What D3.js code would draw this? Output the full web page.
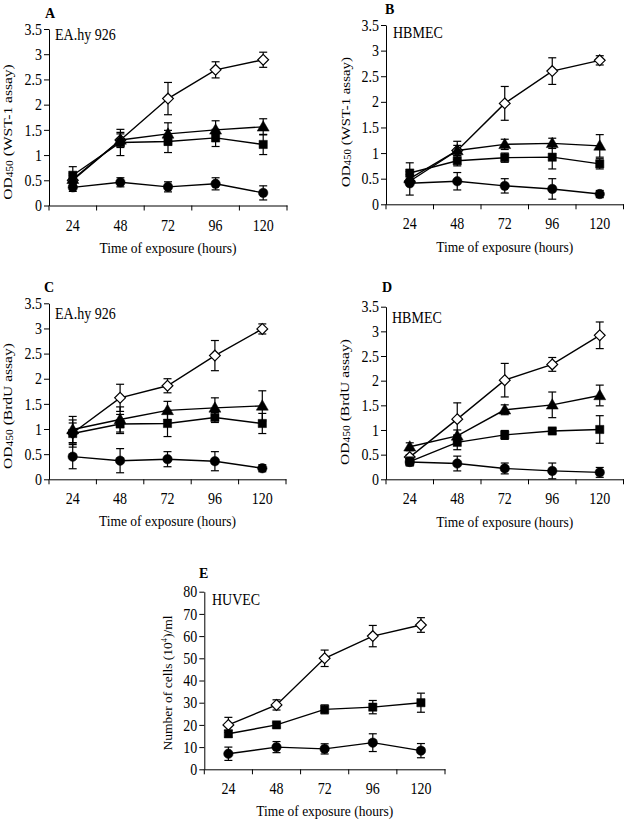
<!DOCTYPE html>
<html>
<head>
<meta charset="utf-8">
<script src="https://cdn.jsdelivr.net/npm/d3@7"></script>
<style>
  html, body { margin: 0; padding: 0; background: #fff; }
  svg { display: block; }
  text { font-family: "Liberation Serif", "Times New Roman", serif; fill: #000; }
</style>
</head>
<body>
<svg id="chart" width="624" height="820"></svg>
<script>
// ---------------- DATA ----------------
const times = ["24", "48", "72", "96", "120"];
const odTicks = [0, 0.5, 1, 1.5, 2, 2.5, 3, 3.5];
const cellTicks = [0, 10, 20, 30, 40, 50, 60, 70, 80];

// Panel A: EA.hy 926, WST-1
const aDiamond = [0.50, 1.30, 2.12, 2.69, 2.89];
const aDiamondErr = [0.10, 0.15, 0.32, 0.16, 0.15];
const aTriangle = [0.52, 1.30, 1.42, 1.50, 1.56];
const aTriangleErr = [0.12, 0.12, 0.22, 0.18, 0.16];
const aSquare = [0.60, 1.25, 1.27, 1.34, 1.21];
const aSquareErr = [0.17, 0.26, 0.22, 0.17, 0.20];
const aCircle = [0.36, 0.46, 0.37, 0.43, 0.25];
const aCircleErr = [0.08, 0.09, 0.10, 0.12, 0.14];

// Panel B: HBMEC, WST-1
const bDiamond = [0.45, 1.05, 1.97, 2.60, 2.81];
const bDiamondErr = [0.06, 0.18, 0.33, 0.26, 0.09];
const bTriangle = [0.50, 1.05, 1.17, 1.19, 1.14];
const bTriangleErr = [0.08, 0.10, 0.10, 0.10, 0.22];
const bSquare = [0.61, 0.85, 0.91, 0.92, 0.79];
const bSquareErr = [0.20, 0.10, 0.09, 0.23, 0.10];
const bCircle = [0.41, 0.45, 0.36, 0.30, 0.20];
const bCircleErr = [0.23, 0.17, 0.14, 0.20, 0.07];

// Panel C: EA.hy 926, BrdU
const cDiamond = [0.92, 1.62, 1.86, 2.46, 2.99];
const cDiamondErr = [0.20, 0.27, 0.14, 0.30, 0.10];
const cTriangle = [0.99, 1.19, 1.37, 1.42, 1.46];
const cTriangleErr = [0.26, 0.25, 0.18, 0.20, 0.30];
const cSquare = [0.91, 1.10, 1.11, 1.23, 1.11];
const cSquareErr = [0.27, 0.19, 0.26, 0.10, 0.20];
const cCircle = [0.45, 0.37, 0.40, 0.36, 0.22];
const cCircleErr = [0.24, 0.24, 0.15, 0.19, 0.07];

// Panel D: HBMEC, BrdU
const dDiamond = [0.45, 1.22, 2.01, 2.33, 2.92];
const dDiamondErr = [0.05, 0.33, 0.34, 0.14, 0.27];
const dTriangle = [0.66, 0.88, 1.41, 1.51, 1.70];
const dTriangleErr = [0.08, 0.12, 0.10, 0.26, 0.21];
const dSquare = [0.36, 0.75, 0.90, 0.98, 1.01];
const dSquareErr = [0.09, 0.15, 0.09, 0.05, 0.28];
const dCircle = [0.35, 0.32, 0.22, 0.17, 0.14];
const dCircleErr = [0.05, 0.15, 0.11, 0.16, 0.10];

// Panel E: HUVEC, cell counts
const eDiamond = [20, 29, 50, 60, 65];
const eDiamondErr = [3.4, 2.3, 3.7, 4.8, 3.3];
const eSquare = [16, 20, 27, 28, 30];
const eSquareErr = [1.5, 1.0, 2.0, 3.0, 4.3];
const eCircle = [7, 10, 9.2, 12, 8.4];
const eCircleErr = [3.0, 2.5, 2.3, 4.0, 3.2];

const xTitle = "Time of exposure (hours)";

// ---------------- LAYOUT ----------------
const panels = [
  { letter: "A", cell: "EA.hy 926", assay: "WST-1 assay",
    left: 49, right: 287, top: 29, bottom: 205.5, yMax: 3.5, ticks: odTicks,
    letterPos: [45, 18], cellPos: [55, 40], tickY: 231, titleY: 253, ylabX: 12, ylabY: 132, ylabStretch: 1.15,
    series: [[aDiamond, aDiamondErr, "diamond"], [aTriangle, aTriangleErr, "triangle"],
             [aSquare, aSquareErr, "square"], [aCircle, aCircleErr, "circle"]] },
  { letter: "B", cell: "HBMEC", assay: "WST-1 assay",
    left: 386, right: 623.5, top: 25, bottom: 204.3, yMax: 3.5, ticks: odTicks,
    letterPos: [385, 14], cellPos: [393, 38], tickY: 229, titleY: 252, ylabX: 350, ylabY: 122, ylabStretch: 1.1,
    series: [[bDiamond, bDiamondErr, "diamond"], [bTriangle, bTriangleErr, "triangle"],
             [bSquare, bSquareErr, "square"], [bCircle, bCircleErr, "circle"]] },
  { letter: "C", cell: "EA.hy 926", assay: "BrdU assay",
    left: 49, right: 286, top: 303.3, bottom: 479.3, yMax: 3.5, ticks: odTicks,
    letterPos: [44, 292], cellPos: [55, 319], tickY: 504, titleY: 526, ylabX: 12, ylabY: 406, ylabStretch: 1.15,
    series: [[cDiamond, cDiamondErr, "diamond"], [cTriangle, cTriangleErr, "triangle"],
             [cSquare, cSquareErr, "square"], [cCircle, cCircleErr, "circle"]] },
  { letter: "D", cell: "HBMEC", assay: "BrdU assay",
    left: 386, right: 623.5, top: 306.7, bottom: 479.3, yMax: 3.5, ticks: odTicks,
    letterPos: [382, 292], cellPos: [392, 323], tickY: 504, titleY: 527, ylabX: 349, ylabY: 402, ylabStretch: 1.15,
    series: [[dDiamond, dDiamondErr, "diamond"], [dTriangle, dTriangleErr, "triangle"],
             [dSquare, dSquareErr, "square"], [dCircle, dCircleErr, "circle"]] },
  { letter: "E", cell: "HUVEC", assay: null,
    left: 204.3, right: 445, top: 591.7, bottom: 769.3, yMax: 80, ticks: cellTicks,
    letterPos: [199, 578], cellPos: [212, 605], tickY: 794, titleY: 816, ylabX: 172, ylabY: 683, ylabStretch: 1.0,
    series: [[eDiamond, eDiamondErr, "diamond"], [eSquare, eSquareErr, "square"],
             [eCircle, eCircleErr, "circle"]] }
];

const svg = d3.select("#chart");
const STRETCH = 1.15;

function stext(g, x, y, str, opts = {}) {
  const s = opts.stretch == null ? STRETCH : opts.stretch;
  return g.append("text")
    .attr("transform", `translate(${x},${y}) scale(1,${s})`)
    .attr("text-anchor", opts.anchor || "start")
    .attr("font-size", opts.size || 13)
    .attr("font-weight", opts.weight || "normal")
    .text(str);
}

const symbols = {
  diamond: d3.symbol().type(d3.symbolDiamond2).size(74),
  square: d3.symbol().type(d3.symbolSquare).size(68),
  triangle: d3.symbol().type(d3.symbolTriangle).size(62),
  circle: d3.symbol().type(d3.symbolCircle).size(70)
};

panels.forEach(p => {
  const g = svg.append("g");
  const x = d3.scaleBand().domain(times).range([p.left, p.right]).paddingInner(0).paddingOuter(0);
  const y = d3.scaleLinear().domain([0, p.yMax]).range([p.bottom, p.top]);
  const cx = t => x(t) + x.bandwidth() / 2;

  // y axis
  const yAx = g.append("g").attr("transform", `translate(${p.left},0)`)
    .call(d3.axisLeft(y).tickValues(p.ticks).tickSize(5).tickSizeOuter(0).tickPadding(2)
      .tickFormat(d => String(d)));
  yAx.select(".domain").attr("stroke", "#000").attr("stroke-width", 1);
  yAx.selectAll(".tick line").attr("stroke", "#000").attr("stroke-width", 1);
  yAx.selectAll(".tick text")
    .attr("font-family", "Liberation Serif, serif").attr("font-size", 14).attr("fill", "#000")
    .attr("transform", `scale(1,${STRETCH})`);

  // x axis line (band axis, no ticks), ticks at band boundaries
  const xAx = g.append("g").attr("transform", `translate(0,${p.bottom})`)
    .call(d3.axisBottom(x).tickSize(0).tickSizeOuter(0).tickFormat(""));
  xAx.select(".domain").attr("stroke", "#000").attr("stroke-width", 1);
  const bounds = times.map(t => x(t)).concat([x(times[times.length - 1]) + x.bandwidth()]);
  g.selectAll(".xb").data(bounds).join("line")
    .attr("x1", d => d).attr("x2", d => d)
    .attr("y1", p.bottom).attr("y2", p.bottom + 5)
    .attr("stroke", "#000").attr("stroke-width", 1);
  times.forEach(t => stext(g, cx(t), p.tickY, t, { anchor: "middle", size: 14 }));

  // x title
  stext(g, (p.left + p.right) / 2, p.titleY, xTitle, { anchor: "middle", size: 13.5 });

  // panel letter & cell label
  stext(g, p.letterPos[0], p.letterPos[1], p.letter, { weight: "bold", size: 14, stretch: 1 });
  stext(g, p.cellPos[0], p.cellPos[1], p.cell, { size: 14 });

  // y title
  const yt = g.append("text")
    .attr("transform", `translate(${p.ylabX},${p.ylabY}) rotate(-90) scale(${p.ylabStretch},1)`)
    .attr("text-anchor", "middle").attr("font-size", 13.5);
  if (p.assay) {
    yt.append("tspan").text("OD");
    yt.append("tspan").attr("font-size", 10).attr("dy", 0.5).text("450");
    yt.append("tspan").attr("dy", -0.5).text(` (${p.assay})`);
  } else {
    yt.append("tspan").text("Number of cells (10");
    yt.append("tspan").attr("font-size", 8.5).attr("dy", -5).text("4");
    yt.append("tspan").attr("dy", 5).text(")/ml");
  }

  const line = d3.line().x((d, i) => cx(times[i])).y(d => y(d));

  p.series.forEach(([vals, errs, shape]) => {
    const sg = g.append("g");
    sg.append("path").datum(vals).attr("d", line)
      .attr("fill", "none").attr("stroke", "#000").attr("stroke-width", 1.4);
    const eb = sg.selectAll(".eb").data(vals.map((v, i) => ({ v, e: errs[i], t: times[i] }))).join("g");
    eb.append("line")
      .attr("x1", d => cx(d.t)).attr("x2", d => cx(d.t))
      .attr("y1", d => y(d.v - d.e)).attr("y2", d => y(d.v + d.e))
      .attr("stroke", "#000").attr("stroke-width", 1.2);
    [-1, 1].forEach(s => {
      eb.append("line")
        .attr("x1", d => cx(d.t) - 4).attr("x2", d => cx(d.t) + 4)
        .attr("y1", d => y(d.v + s * d.e)).attr("y2", d => y(d.v + s * d.e))
        .attr("stroke", "#000").attr("stroke-width", 1.2);
    });
    sg.selectAll(".mk").data(vals).join("path")
      .attr("transform", (d, i) => `translate(${cx(times[i])},${y(d) + (shape === "triangle" ? 0.8 : 0)})`)
      .attr("d", symbols[shape])
      .attr("fill", shape === "diamond" ? "#fff" : "#000")
      .attr("stroke", "#000").attr("stroke-width", shape === "diamond" ? 1.2 : 0.5);
  });
});
</script>
</body>
</html>
